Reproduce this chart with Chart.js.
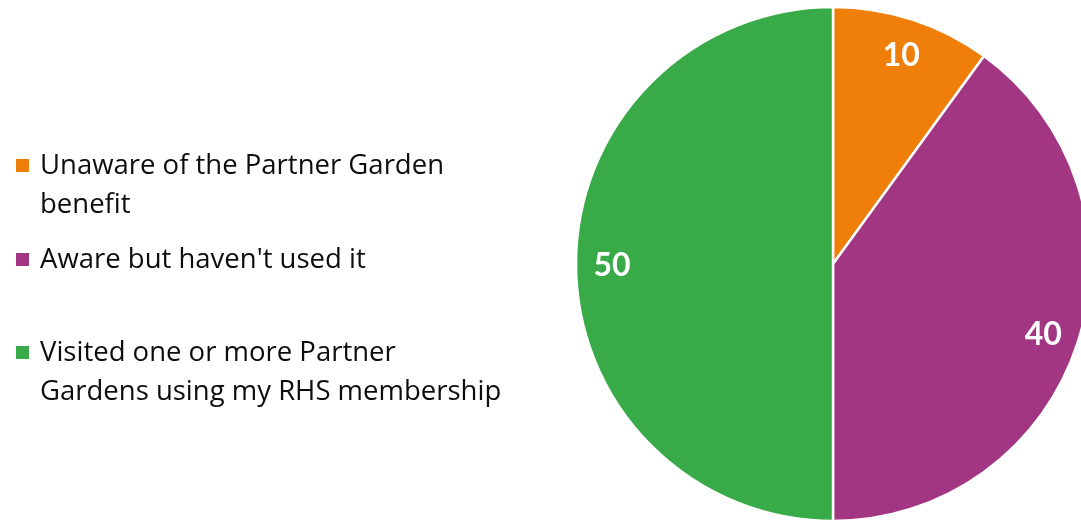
<!DOCTYPE html>
<html>
<head>
<meta charset="utf-8">
<script src="https://cdn.jsdelivr.net/npm/chart.js@4"></script>
<style>
  html, body { margin: 0; padding: 0; background: #ffffff; }
  #wrap { position: relative; width: 1081px; height: 520px; overflow: hidden; }
  #pie { position: absolute; left: 0; top: 0; }
  #legend { position: absolute; left: 0; top: 0; font-family: "Open Sans", Lato, sans-serif; font-size: 27.5px; line-height: 38.5px; color: #0d0d0d; }
  .item { position: absolute; left: 40px; white-space: nowrap; }
  .box { position: absolute; left: -24px; top: 14px; width: 13px; height: 13px; }
</style>
</head>
<body>
<div id="wrap">
  <canvas id="pie" width="1081" height="520"></canvas>
  <div id="legend"></div>
</div>
<script>
// Survey answers: awareness and use of the Partner Garden benefit (%)
const categories = [
  ['Unaware of the Partner Garden', 'benefit'],
  ["Aware but haven't used it"],
  ['Visited one or more Partner', 'Gardens using my RHS membership']
];
const shares = [10, 40, 50];
const sliceColors = ['#F07F09', '#A33682', '#39AA48'];

// Legend rows on the left, one block per category
const legendTops = [145, 239, 332];
const legendEl = document.getElementById('legend');
categories.forEach((lines, i) => {
  const item = document.createElement('div');
  item.className = 'item';
  item.style.top = legendTops[i] + 'px';
  const box = document.createElement('span');
  box.className = 'box';
  box.style.background = sliceColors[i];
  item.appendChild(box);
  lines.forEach((line, j) => {
    if (j > 0) item.appendChild(document.createElement('br'));
    item.appendChild(document.createTextNode(line));
  });
  legendEl.appendChild(item);
});

// Value labels written inside each slice
const sliceValueLabels = {
  id: 'sliceValueLabels',
  afterDatasetsDraw(chart) {
    const ctx = chart.ctx;
    const meta = chart.getDatasetMeta(0);
    const values = chart.data.datasets[0].data;
    ctx.save();
    ctx.font = 'bold 32px Lato, "Open Sans", sans-serif';
    ctx.fillStyle = '#ffffff';
    ctx.textAlign = 'center';
    ctx.textBaseline = 'middle';
    meta.data.forEach((arc, i) => {
      const p = arc.getProps(['x', 'y', 'startAngle', 'endAngle', 'outerRadius'], true);
      const mid = (p.startAngle + p.endAngle) / 2;
      const r = p.outerRadius * 0.86;
      ctx.fillText(String(values[i]), p.x + Math.cos(mid) * r, p.y + Math.sin(mid) * r + 2);
    });
    ctx.restore();
  }
};

new Chart(document.getElementById('pie'), {
  type: 'pie',
  data: {
    labels: categories,
    datasets: [{
      data: shares,
      backgroundColor: sliceColors,
      borderColor: '#ffffff',
      borderWidth: 2.5,
      clip: false
    }]
  },
  options: {
    responsive: false,
    animation: false,
    radius: 257,
    layout: { padding: { left: 585, right: 0, top: 8, bottom: 0 } },
    plugins: {
      legend: { display: false },
      tooltip: { enabled: false }
    }
  },
  plugins: [sliceValueLabels]
});
</script>
</body>
</html>
